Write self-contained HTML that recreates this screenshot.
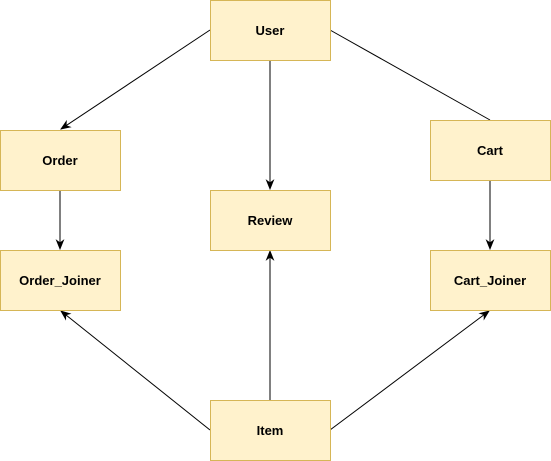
<!DOCTYPE html>
<html><head><style>body{margin:0;background:#fff}svg{display:block}text{font-family:"Liberation Sans",Arial,sans-serif;font-weight:bold;font-size:13px;fill:#000}</style></head><body>
<svg width="551" height="461" viewBox="0 0 551 461">
<defs><marker id="a" viewBox="0 0 10 10" refX="9" refY="5" markerWidth="11" markerHeight="11" markerUnits="userSpaceOnUse" orient="auto"><path d="M0,1 L10,5 L0,9 L3,5 Z" fill="#000"/></marker></defs>
<g stroke="#000" stroke-width="1" fill="none">
<line x1="210" y1="30" x2="61" y2="129" marker-end="url(#a)"/>
<line x1="270" y1="60" x2="270" y2="189" marker-end="url(#a)"/>
<line x1="330" y1="30" x2="490" y2="120"/>
<line x1="60" y1="190" x2="60" y2="249" marker-end="url(#a)"/>
<line x1="490" y1="180" x2="490" y2="249" marker-end="url(#a)"/>
<line x1="210" y1="430" x2="61" y2="311" marker-end="url(#a)"/>
<line x1="270" y1="400" x2="270" y2="251" marker-end="url(#a)"/>
<line x1="330" y1="430" x2="489" y2="311" marker-end="url(#a)"/>
</g>
<g fill="#fff2cc" stroke="#d6b656">
<rect x="210.5" y="0.5" width="120" height="60"/>
<rect x="0.5" y="130.5" width="120" height="60"/>
<rect x="0.5" y="250.5" width="120" height="60"/>
<rect x="210.5" y="190.5" width="120" height="60"/>
<rect x="430.5" y="120.5" width="120" height="60"/>
<rect x="430.5" y="250.5" width="120" height="60"/>
<rect x="210.5" y="400.5" width="120" height="60"/>
</g>
<g text-anchor="middle">
<text x="270" y="35">User</text>
<text x="60" y="165">Order</text>
<text x="60" y="285">Order_Joiner</text>
<text x="270" y="225">Review</text>
<text x="490" y="155">Cart</text>
<text x="490" y="285">Cart_Joiner</text>
<text x="270" y="435">Item</text>
</g>
</svg>
</body></html>
